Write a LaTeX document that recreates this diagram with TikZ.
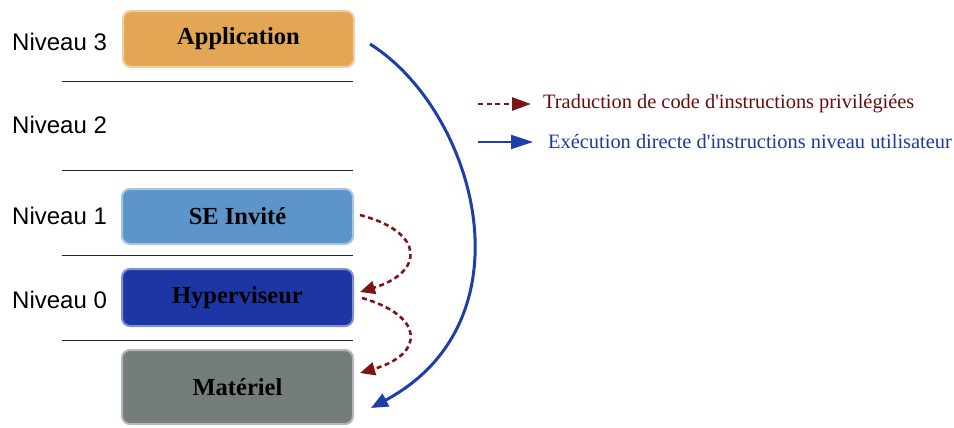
\documentclass[tikz,border=0pt]{standalone}
\usepackage{fontspec}
\setmainfont{Liberation Serif}
\newfontfamily\legfont{Liberation Serif}
\newfontfamily\lvlfont{Liberation Sans}
\usetikzlibrary{arrows.meta}
\definecolor{appc}{HTML}{E2A654}
\definecolor{sec}{HTML}{5D95CA}
\definecolor{hypc}{HTML}{1C36A6}
\definecolor{matc}{HTML}{747C7C}
\definecolor{redarr}{HTML}{7A1616}
\definecolor{bluearr}{HTML}{1E3FA8}
\definecolor{redtxt}{HTML}{6A0C0C}
\definecolor{bluetxt}{HTML}{1A3A9E}
\tikzset{
  layerbox/.style={draw=#1!55!white, line width=2pt, fill=#1, rounded corners=8pt, inner sep=0pt,
    font=\fontsize{24.5}{26}\selectfont\bfseries, text=black},
  lvl/.style={font=\lvlfont\fontsize{24}{26}\selectfont, anchor=west, inner sep=0pt},
  sep/.style={draw=black!85, line width=0.9pt},
  trans/.style={draw=redarr, line width=2.6pt, dash pattern=on 5pt off 3.5pt, -{Triangle[length=15pt,width=13pt]}},
  direct/.style={draw=bluearr, line width=3pt, -{Triangle[length=17pt,width=14pt]}},
  legtxt/.style={font=\legfont\fontsize{20.4}{22}\selectfont, anchor=west, inner sep=0pt}
}
\begin{document}
\begin{tikzpicture}[x=1pt,y=-1pt]
\useasboundingbox (0,0) rectangle (954,428);
% boxes
\node[layerbox=appc, minimum width=231pt, minimum height=56pt] (app) at (238.5,39) {Application};
\node[layerbox=sec, minimum width=231pt, minimum height=55pt] (se) at (237.5,216.5) {SE Invité};
\node[layerbox=hypc, minimum width=231pt, minimum height=57pt] (hyp) at (237.5,297.5) {Hyperviseur};
\node[layerbox=matc, minimum width=231pt, minimum height=74pt] (mat) at (237.5,387) {Matériel};
% separators
\coordinate (s1a) at (62,81); \coordinate (s1b) at (353,81);
\coordinate (s2a) at (62,170); \coordinate (s2b) at (353,170);
\coordinate (s3a) at (62,255); \coordinate (s3b) at (353,255);
\coordinate (s4a) at (62,340); \coordinate (s4b) at (353,340);
\draw[sep] (s1a) -- (s1b);
\draw[sep] (s2a) -- (s2b);
\draw[sep] (s3a) -- (s3b);
\draw[sep] (s4a) -- (s4b);
% level labels
\node[lvl] (n3) at (12,42) {Niveau 3};
\node[lvl] (n2) at (12,125) {Niveau 2};
\node[lvl] (n1) at (12,216) {Niveau 1};
\node[lvl] (n0) at (12,300) {Niveau 0};
% arrows
\coordinate (bs) at (370,44);
\coordinate (be) at (371,408);
\draw[direct] (bs) .. controls (475,110) and (535,320) .. (be);
\coordinate (r1s) at (360,215);
\coordinate (r1e) at (360,292);
\draw[trans] (r1s) .. controls (425,232) and (425,272) .. (r1e);
\coordinate (r2s) at (362,298);
\coordinate (r2e) at (360,373);
\draw[trans] (r2s) .. controls (425,316) and (425,354) .. (r2e);
% legend
\coordinate (l1a) at (478,104); \coordinate (l1b) at (531,104);
\coordinate (l2a) at (478,142); \coordinate (l2b) at (533,142);
\draw[trans, -{Triangle[length=19pt,width=13pt]}] (l1a) -- (l1b);
\draw[direct, line width=2.2pt, -{Triangle[length=22pt,width=14pt]}] (l2a) -- (l2b);
\node[legtxt, text=redtxt] (t1) at (543,104) {Traduction de code d'instructions privilégiées};
\node[legtxt, text=bluetxt] (t2) at (548,142) {Exécution directe d'instructions niveau utilisateur};
\end{tikzpicture}
\end{document}
